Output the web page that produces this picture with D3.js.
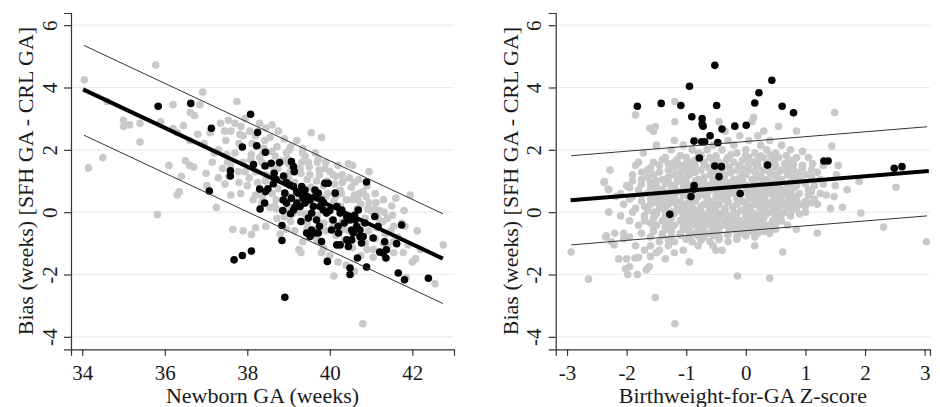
<!DOCTYPE html>
<html>
<head>
<meta charset="utf-8">
<script src="https://cdn.jsdelivr.net/npm/d3@7"></script>
<style>
  body { margin: 0; background: #fff; }
  svg text { font-family: 'Liberation Serif', 'Tinos', 'Times New Roman', 'DejaVu Serif', serif; fill: #1a1a1a; }
</style>
</head>
<body>
<svg id="chart" width="940" height="407"></svg>
<script>
// tick values
const yTicks = [-4, -2, 0, 2, 4, 6];
const gaTicks = [34, 36, 38, 40, 42];
const zTicks = [-3, -2, -1, 0, 1, 2, 3];

const yTitle = 'Bias (weeks) [SFH GA - CRL GA]';
const gaTitle = 'Newborn GA (weeks)';
const zTitle = 'Birthweight-for-GA Z-score';
const serif = "'Liberation Serif', 'Tinos', 'Times New Roman', 'DejaVu Serif', serif";

// left panel: [newborn GA, bias]
const gaGray = [
  [34.05,4.25],[34.15,1.42],[34.5,1.75],[34.6,3.55],[35.0,2.95],[35.0,2.75],[35.15,2.8],[35.4,2.85],[35.4,2.25],
  [35.78,4.72],[35.82,-0.08],[36.1,1.5],[36.2,2.68],[36.2,3.45],[36.3,0.55],[36.35,0.65],[36.4,1.15],[36.45,2.78],
  [36.5,1.65],[36.6,1.5],[36.7,1.45],[36.6,2.3],[36.72,3.1],[36.62,3.2],[36.85,3.45],[36.92,3.85],[37.0,1.25],
  [37.02,0.85],[36.95,2.2],[37.1,2.55],[37.25,0.15],[37.3,2.0],[37.2,1.9],[37.35,2.85],[37.45,2.6],[37.5,1.85],
  [37.55,1.15],[37.6,0.55],[37.4,1.4],[37.65,-0.55],[37.9,-0.6],[38.1,-0.72],[38.2,-0.5],[38.45,-0.45],[37.75,3.55],
  [37.7,2.85],[37.6,2.6],[37.85,2.75],[37.95,3.0],[38.2,2.45],[38.3,2.85],[38.45,2.7],[38.55,2.4],[37.7,1.9],
  [37.8,2.2],[37.9,1.6],[37.95,1.3],[38.05,1.1],[38.0,0.85],[37.8,0.95],[38.2,0.55],[38.35,0.3],[38.55,0.15],
  [38.7,0.1],[38.6,0.6],[38.7,0.4],[38.9,-0.15],[38.95,-0.55],[39.05,-0.3],[39.3,-1.3],[39.25,-1.2],[39.45,-0.55],
  [39.55,-0.75],[39.7,-0.9],[39.85,-1.15],[39.9,-0.6],[40.1,-2.05],[40.2,-1.6],[40.8,-3.58],[39.55,2.55],[39.8,2.4],
  [39.65,1.9],[39.9,1.6],[39.4,1.8],[39.2,2.3],[39.05,2.1],[38.9,2.35],[38.75,2.6],[38.95,1.9],[38.85,1.65],
  [38.6,1.95],[38.4,2.05],[38.3,1.75],[38.1,1.85],[38.2,1.3],[38.45,1.2],[38.65,1.35],[38.8,1.05],[39.0,1.1],
  [39.15,0.95],[39.3,1.25],[39.5,1.45],[39.45,1.05],[39.6,0.7],[39.75,1.2],[39.85,0.85],[40.0,1.3],[40.15,1.15],
  [40.3,1.2],[40.45,1.55],[40.55,1.5],[40.7,1.05],[40.95,1.3],[40.95,0.3],[40.8,0.65],[40.6,0.55],[40.4,0.4],
  [40.25,0.7],[40.1,0.35],[39.95,0.15],[39.7,-0.1],[39.4,-0.05],[39.25,0.4],[39.1,-0.05],[40.3,-0.3],[40.5,-0.1],
  [40.7,-0.35],[40.85,-0.2],[41.0,0.05],[41.2,0.05],[41.2,-0.35],[41.4,-0.2],[41.55,-0.45],[41.6,0.45],[41.8,0.05],
  [41.95,0.55],[41.65,-0.8],[41.9,-1.05],[42.0,-1.6],[41.85,-2.1],[42.55,-2.3],[42.75,-1.05],[41.3,-1.0],[41.1,-0.85],
  [40.9,-1.2],[40.75,-1.4],[40.55,-1.15],[40.35,-0.9],[40.15,-0.75],[40.0,-1.4],[39.8,-1.3],[40.4,-1.7],[40.6,-1.9],
  [41.05,-1.45],[41.4,-1.1],[41.55,-1.3],[42.2,-1.2],[38.5,1.5],[38.75,0.75],[39.0,0.5],[39.6,0.3],[39.9,0.5],
  [40.6,0.95],[40.3,0.95],[41.3,0.4],[41.1,0.6],[38.25,0.95],[37.6,1.5],[37.3,1.1],[37.9,2.45],[38.6,2.8],
  [39.35,2.05],[39.7,1.6],[40.2,1.5],[40.75,0.25],[41.5,0.2],[41.75,-0.35],[39.15,-0.6],[39.35,-0.95],[38.8,-0.7],
  [40.05,-0.25],[40.9,0.85],[41.15,-0.15],[39.0,1.55],[38.35,1.6],[37.15,1.6],[36.8,2.5],[36.3,2.55],[35.9,2.9],
  [37.48,2.3],[37.52,1.6],[37.46,0.9],[37.54,2.95],[37.82,2.5],[37.78,1.3],[37.84,0.6],[38.12,2.2],[38.08,1.7],
  [38.14,0.4],[38.06,2.6],[38.42,2.3],[38.38,1.9],[38.44,1.0],[38.36,0.5],[38.72,2.1],[38.68,1.8],[38.74,1.4],
  [38.66,0.2],[38.72,-0.2],[39.02,2.0],[38.98,1.7],[39.04,1.3],[38.96,0.0],[39.02,0.2],[39.32,1.6],[39.28,1.4],
  [39.34,1.9],[39.26,0.0],[39.32,-0.3],[39.52,1.2],[39.48,1.6],[39.54,0.8],[39.46,-0.4],[39.72,1.7],[39.68,1.0],
  [39.74,1.35],[39.66,-0.2],[39.72,-0.5],[39.92,1.0],[39.88,1.4],[39.94,0.6],[39.86,-0.35],[40.12,0.9],[40.08,1.2],
  [40.14,0.5],[40.06,-0.5],[40.32,1.0],[40.28,0.6],[40.34,-0.55],[40.26,0.2],[40.52,0.8],[40.48,1.1],[40.54,0.4],
  [40.46,-0.6],[40.72,0.6],[40.68,0.4],[40.74,-0.9],[40.66,0.1],[40.92,0.1],[40.88,0.5],[40.94,-0.6],[40.86,-1.0],
  [41.12,0.3],[41.08,0.1],[41.14,-0.5],[41.06,-1.2],[41.32,0.0],[41.28,-0.3],[41.34,-0.7],[41.52,-0.1],[41.48,-0.6],
  [41.54,-0.95],[41.82,-0.45],[41.78,-1.3],[42.12,-0.6],[42.08,-1.5]
];
const gaBlack = [
  [35.84,3.40],[36.63,3.49],[37.13,2.69],[37.08,0.68],[38.08,3.14],[38.25,2.56],[38.23,2.13],[37.88,2.09],[38.44,1.92],
  [38.15,1.53],[37.59,1.33],[37.59,1.16],[37.68,-1.53],[37.88,-1.39],[38.1,-1.25],[38.91,-2.73],[38.84,-0.91],[38.84,-0.43],
  [38.86,0.05],[38.3,0.74],[38.44,0.66],[38.31,0.1],[38.42,0.29],[38.43,1.48],[38.58,1.57],[38.78,1.59],[38.65,1.25],
  [38.88,1.16],[38.63,0.91],[39.07,1.62],[39.12,1.46],[39.14,1.3],[38.91,0.61],[39.03,0.87],[39.12,0.82],[38.87,0.39],
  [38.95,0.29],[39.07,0.45],[39.2,0.29],[39.28,0.18],[39.12,0.07],[39.24,0.61],[39.32,0.82],[39.4,0.71],[39.44,0.5],
  [39.52,0.39],[39.6,0.18],[39.56,-0.03],[39.48,-0.19],[39.4,0.29],[39.64,0.71],[39.72,0.61],[39.8,0.39],[39.76,0.18],
  [39.84,0.07],[39.92,-0.03],[39.68,-0.25],[39.56,-0.57],[39.44,-0.67],[39.52,-0.78],[39.64,-0.67],[39.72,-0.67],[39.8,-0.94],
  [39.88,0.93],[39.96,0.93],[40.13,0.61],[40.17,0.18],[40.08,-0.25],[40.04,-0.57],[40.17,-1.05],[40.21,-0.67],[40.25,-0.03],
  [40.29,0.07],[40.41,-0.14],[40.49,-0.25],[40.53,-0.57],[40.41,-0.89],[40.25,-1.05],[40.45,-1.1],[40.53,-0.89],[40.57,-0.67],
  [40.65,-0.46],[40.73,-0.57],[40.61,-0.25],[40.69,0.07],[40.73,-0.78],[40.77,-0.99],[40.67,-1.47],[40.49,-1.79],[40.49,-2.0],
  [40.89,-1.76],[40.81,-0.78],[41.05,-0.83],[41.09,-0.14],[41.17,-0.46],[41.21,-1.28],[41.29,-1.31],[41.33,-0.95],[41.37,-1.21],
  [41.36,-1.47],[39.94,-1.58],[41.66,-1.95],[41.62,-1.01],[41.74,-0.41],[41.81,-2.17],[42.39,-2.12],[40.89,0.97],[38.7,1.05],
  [38.95,0.95],[39.2,0.65],[39.35,0.45],[39.15,0.15],[39.05,-0.05],[39.65,0.5],[39.85,0.3],[40.0,0.05],[40.35,-0.35],
  [40.6,-0.1],[40.85,-0.35],[39.3,-0.3],[39.75,-0.45],[38.5,0.75],[40.2,-0.45]
];

// right panel: [birthweight-for-GA z-score, bias]
const zGray = [
  [-0.45,2.9],[0.1,2.9],[-1.52,2.75],[0.55,2.75],[1.49,3.2],[-1.55,2.6],[-0.35,2.6],[0.3,2.6],[0.85,2.6],
  [-0.6,2.45],[-0.1,2.45],[0.2,2.45],[-1.2,2.3],[-0.85,2.3],[-0.3,2.3],[0.05,2.3],[0.4,2.3],
  [-1.5,2.15],[-1.05,2.15],[-0.55,2.15],[-0.2,2.15],[0.25,2.15],[0.6,2.15],[1.44,2.12],
  [-1.25,2.0],[-0.9,2.0],[-0.65,2.0],[-0.4,2.0],[0.0,2.0],[0.35,2.0],[0.75,2.0],[0.95,1.95],
  [-1.72,1.9],[-0.8,1.9],[-0.15,1.9],[0.15,1.9],[0.5,1.9],
  [-1.35,1.75],[-1.0,1.75],[-0.6,1.75],[-0.3,1.75],[0.05,1.75],[0.3,1.75],[0.55,1.75],[0.85,1.75],[1.05,1.75],
  [-1.8,1.6],[-1.55,1.6],[-1.2,1.6],[-0.95,1.6],[-0.7,1.6],[-0.45,1.6],[-0.2,1.6],[0.1,1.6],[0.4,1.6],[0.7,1.6],
  [-1.85,1.5],[-1.45,1.5],[-1.1,1.5],[-0.85,1.5],[-0.55,1.5],[-0.1,1.5],[0.2,1.5],[0.5,1.5],[0.95,1.5],[1.3,1.5],[1.55,1.5],
  [-2.28,1.35],[-1.65,1.35],[-1.3,1.35],[-1.0,1.35],[-0.75,1.35],[-0.4,1.35],[-0.15,1.35],[0.05,1.35],[0.3,1.35],[0.6,1.35],[0.8,1.35],[1.1,1.35],
  [-1.9,1.2],[-1.55,1.2],[-1.2,1.2],[-0.95,1.2],[-0.6,1.2],[-0.35,1.2],[0.0,1.2],[0.25,1.2],[0.45,1.2],[0.7,1.2],[1.0,1.2],[1.52,1.2],
  [-1.75,1.05],[-1.4,1.05],[-1.1,1.05],[-0.8,1.05],[-0.5,1.05],[-0.2,1.05],[0.1,1.05],[0.35,1.05],[0.6,1.05],[0.9,1.05],[1.25,1.05],
  [-2.38,0.95],[-1.6,0.95],[-1.3,0.95],[-1.0,0.95],[-0.7,0.95],[-0.45,0.95],[-0.25,0.95],[0.15,0.95],[0.4,0.95],[0.75,0.95],[1.0,0.95],[1.9,0.98],
  [-2.0,0.85],[-1.5,0.85],[-1.2,0.85],[-0.9,0.85],[-0.6,0.85],[-0.35,0.85],[0.0,0.85],[0.3,0.85],[0.55,0.85],[0.85,0.85],[1.15,0.85],[1.5,0.85],[2.52,0.8],
  [-2.3,0.72],[-1.8,0.72],[-1.4,0.72],[-1.05,0.72],[-0.75,0.72],[-0.55,0.72],[-0.15,0.72],[0.2,0.72],[0.45,0.72],[0.65,0.72],[1.05,0.72],[1.7,0.72],
  [-2.1,0.6],[-1.65,0.6],[-1.3,0.6],[-1.0,0.6],[-0.65,0.6],[-0.4,0.6],[-0.2,0.6],[0.1,0.6],[0.35,0.6],[0.6,0.6],[0.9,0.6],[1.25,0.6],
  [-2.18,0.5],[-1.9,0.5],[-1.5,0.5],[-1.2,0.5],[-0.8,0.5],[-0.5,0.5],[0.05,0.5],[0.25,0.5],[0.5,0.5],[0.8,0.5],[1.48,0.5],
  [-1.75,0.35],[-1.4,0.35],[-1.1,0.35],[-0.85,0.35],[-0.55,0.35],[-0.3,0.35],[-0.05,0.35],[0.2,0.35],[0.45,0.35],[0.7,0.35],[1.0,0.35],
  [-2.05,0.25],[-1.6,0.25],[-1.3,0.25],[-1.0,0.25],[-0.7,0.25],[-0.45,0.25],[-0.15,0.25],[0.15,0.25],[0.4,0.25],[0.65,0.25],[0.92,0.25],[1.2,0.25],
  [-1.85,0.12],[-1.45,0.12],[-1.15,0.12],[-0.9,0.12],[-0.6,0.12],[-0.35,0.12],[0.0,0.12],[0.3,0.12],[0.55,0.12],[0.85,0.12],[1.42,0.12],[1.62,0.16],
  [-2.3,0.0],[-1.9,0.0],[-1.55,0.0],[-1.25,0.0],[-1.0,0.0],[-0.75,0.0],[-0.5,0.0],[-0.2,0.0],[0.1,0.0],[0.4,0.0],[0.65,0.0],[1.0,0.0],[1.93,-0.03],
  [-2.1,-0.12],[-1.7,-0.12],[-1.35,-0.12],[-1.05,-0.12],[-0.8,-0.12],[-0.55,-0.12],[-0.3,-0.12],[0.0,-0.12],[0.25,-0.12],[0.5,-0.12],[0.75,-0.12],
  [-1.95,-0.28],[-1.7,-0.28],[-1.4,-0.28],[-1.1,-0.28],[-0.85,-0.28],[-0.6,-0.28],[-0.35,-0.28],[-0.1,-0.28],[0.15,-0.28],[0.45,-0.28],[0.6,-0.28],
  [-1.8,-0.42],[-1.5,-0.42],[-1.2,-0.42],[-0.9,-0.42],[-0.65,-0.42],[-0.4,-0.42],[-0.15,-0.42],[0.1,-0.42],[0.35,-0.42],[0.7,-0.42],[2.31,-0.48],
  [-1.55,-0.55],[-1.3,-0.55],[-1.0,-0.55],[-0.75,-0.55],[-0.5,-0.55],[-0.25,-0.55],[0.05,-0.55],[0.3,-0.55],[0.5,-0.55],[0.85,-0.55],
  [-2.2,-0.68],[-2.05,-0.68],[-1.75,-0.68],[-1.4,-0.68],[-1.1,-0.68],[-0.85,-0.68],[-0.6,-0.68],[-0.3,-0.68],[-0.05,-0.68],[0.2,-0.68],[0.4,-0.68],[1.2,-0.67],
  [-2.35,-0.8],[-1.95,-0.8],[-1.6,-0.8],[-1.25,-0.8],[-0.95,-0.8],[-0.7,-0.8],[-0.45,-0.8],[-0.15,-0.8],[0.15,-0.8],
  [-2.25,-0.95],[-1.45,-0.95],[-1.2,-0.95],[-0.9,-0.95],[-0.6,-0.95],[-0.3,-0.95],[3.03,-0.95],
  [-1.85,-1.08],[-1.6,-1.08],[-1.3,-1.08],[-0.8,-1.08],[-0.55,-1.08],[0.15,-1.08],
  [-1.7,-1.22],[-1.45,-1.22],[-1.05,-1.22],[-0.5,-1.22],[-0.4,-1.22],
  [-2.93,-1.28],[-1.5,-1.3],[-1.2,-1.3],[0.62,-1.28],[-2.0,-1.5],[-1.8,-1.45],[-1.35,-1.5],[-0.95,-1.6],
  [-1.95,-1.75],[-1.62,-1.75],[-1.98,-2.0],[-1.82,-2.0],[-0.14,-2.05],[-2.64,-2.15],[0.40,-2.12],[-1.52,-2.74],[-1.19,-3.58],
  [-1.19,3.55],[-1.85,3.12],[0.13,3.04],[-1.19,2.9],[-1.61,2.69],[-2.37,0.98],[-2.31,0.74],[-2.34,-0.76],[-2.21,-1.05],
  [-2.05,-0.86],[-2.13,-1.5],[-2.02,-1.82],[-1.67,-1.85],[-1.86,-1.47],[-1.6,-1.42],
  // dense core
  [-1.1,1.82],[-0.75,1.83],[-0.5,1.81],[-0.25,1.84],[0.0,1.82],[0.25,1.8],[0.42,1.83],[0.68,1.82],
  [-1.4,1.68],[-1.15,1.69],[-0.85,1.67],[-0.55,1.68],[-0.32,1.7],[-0.05,1.67],[0.2,1.68],[0.48,1.69],[0.78,1.66],
  [-1.3,1.55],[-1.0,1.56],[-0.7,1.54],[-0.35,1.55],[0.05,1.53],[0.35,1.56],[0.65,1.55],[0.8,1.52],[1.12,1.55],
  [-1.6,1.42],[-1.2,1.43],[-0.9,1.41],[-0.62,1.42],[-0.28,1.44],[0.0,1.41],[0.18,1.42],[0.45,1.43],[0.7,1.4],[0.95,1.42],
  [-1.75,1.28],[-1.45,1.29],[-1.1,1.27],[-0.85,1.28],[-0.52,1.3],[-0.25,1.27],[-0.05,1.28],[0.15,1.29],[0.4,1.27],[0.55,1.28],[0.88,1.26],[1.2,1.28],
  [-1.65,1.12],[-1.3,1.13],[-1.0,1.11],[-0.7,1.12],[-0.42,1.14],[-0.1,1.11],[0.18,1.12],[0.5,1.13],[0.8,1.11],[1.1,1.12],
  [-1.9,1.0],[-1.5,1.01],[-1.15,0.99],[-0.85,1.0],[-0.55,1.02],[-0.35,0.99],[-0.05,1.0],[0.28,1.01],[0.55,0.99],[0.88,1.0],
  [-1.75,0.9],[-1.35,0.91],[-1.05,0.89],[-0.75,0.9],[-0.48,0.92],[-0.15,0.89],[0.15,0.9],[0.45,0.91],[0.7,0.89],[1.0,0.9],[1.3,0.9],
  [-1.95,0.78],[-1.6,0.79],[-1.25,0.77],[-0.95,0.78],[-0.65,0.8],[-0.3,0.77],[0.08,0.78],[0.35,0.79],[0.55,0.77],[0.8,0.78],
  [-1.5,0.66],[-1.15,0.67],[-0.85,0.65],[-0.48,0.66],[-0.28,0.68],[0.0,0.65],[0.25,0.66],[0.5,0.67],[0.75,0.65],[1.1,0.66],
  [-1.75,0.55],[-1.4,0.56],[-1.05,0.54],[-0.7,0.55],[-0.3,0.57],[-0.1,0.54],[0.2,0.55],[0.45,0.56],[0.7,0.54],[1.05,0.55],[1.35,0.55],
  [-1.95,0.42],[-1.6,0.43],[-1.3,0.41],[-0.95,0.42],[-0.65,0.44],[-0.4,0.41],[-0.15,0.42],[0.1,0.43],[0.32,0.41],[0.58,0.42],[0.85,0.42],[1.15,0.42],
  [-1.5,0.3],[-1.2,0.31],[-0.9,0.29],[-0.6,0.3],[-0.3,0.32],[0.0,0.29],[0.3,0.3],[0.55,0.31],[0.8,0.29],[1.1,0.3],
  [-1.7,0.18],[-1.35,0.19],[-1.05,0.17],[-0.75,0.18],[-0.5,0.2],[-0.22,0.17],[0.05,0.18],[0.22,0.19],[0.48,0.17],[0.72,0.18],[1.0,0.18],
  [-1.65,0.06],[-1.35,0.07],[-1.1,0.05],[-0.85,0.06],[-0.6,0.08],[-0.35,0.05],[-0.08,0.06],[0.25,0.07],[0.5,0.05],[0.78,0.06],
  [-1.5,-0.06],[-1.2,-0.05],[-0.9,-0.07],[-0.65,-0.06],[-0.4,-0.04],[-0.15,-0.07],[0.15,-0.06],[0.35,-0.05],[0.6,-0.07],[0.9,-0.06],
  [-1.55,-0.2],[-1.25,-0.19],[-0.95,-0.21],[-0.7,-0.2],[-0.45,-0.18],[-0.2,-0.21],[0.05,-0.2],[0.3,-0.19],[0.55,-0.21],
  [-1.6,-0.35],[-1.3,-0.34],[-1.0,-0.36],[-0.75,-0.35],[-0.5,-0.33],[-0.25,-0.36],[0.0,-0.35],[0.25,-0.34],[0.5,-0.36],
  [-1.35,-0.48],[-1.05,-0.47],[-0.8,-0.49],[-0.55,-0.48],[-0.3,-0.46],[-0.05,-0.49],[0.2,-0.48],[0.45,-0.47],
  [-1.55,-0.62],[-1.25,-0.61],[-0.95,-0.63],[-0.7,-0.62],[-0.45,-0.6],[-0.15,-0.63],[0.1,-0.62],[0.3,-0.61],
  [-1.4,-0.75],[-1.1,-0.74],[-0.8,-0.76],[-0.55,-0.75],[-0.3,-0.73],[0.0,-0.76],
  [-1.3,-0.88],[-1.0,-0.87],[-0.75,-0.89],[-0.45,-0.88],[-0.15,-0.87]
];
const zBlack = [
  [-1.82,3.40],[-1.42,3.49],[-1.09,3.42],[-0.945,4.04],[-0.906,3.06],[-0.733,3.0],[-0.733,2.83],[-0.716,2.76],
  [-0.87,2.28],[-0.74,2.26],[-0.69,2.26],[-0.60,2.45],[-0.52,4.71],[-0.49,3.42],[-0.40,2.67],[-0.47,2.23],
  [-0.78,1.74],[-0.52,1.48],[-0.41,1.46],[-0.45,1.14],[-0.867,0.85],[-0.87,0.74],[-0.92,0.50],[-1.275,-0.07],
  [-0.185,2.76],[0.006,2.79],[-0.095,0.60],[0.15,3.50],[0.22,3.83],[0.436,4.23],[0.364,1.51],[0.61,3.40],
  [0.80,3.19],[1.31,1.64],[1.38,1.64],[2.49,1.41],[2.62,1.46]
];

// fitted line and band ends
const gaFit = [[34.02,3.94],[42.74,-1.49]];
const gaUpper = [[34.04,5.35],[42.74,-0.05]];
const gaLower = [[34.04,2.47],[42.74,-2.93]];
const zFit = [[-2.94,0.38],[3.07,1.32]];
const zUpper = [[-2.93,1.81],[3.04,2.74]];
const zLower = [[-2.93,-1.05],[3.04,-0.12]];

const svg = d3.select('#chart');
svg.append('rect').attr('width', 940).attr('height', 407).attr('fill', '#fff');

const drawPanel = (p) => {
  const x = d3.scaleLinear().domain(p.xDomain).range([p.left, p.right]);
  const y = d3.scaleLinear().domain([-4.4, 6.39]).range([349.3, 13]);
  const g = svg.append('g');

  // horizontal grid
  g.append('g')
    .selectAll('line')
    .data(yTicks)
    .enter()
    .append('line')
    .attr('x1', p.left)
    .attr('x2', p.right)
    .attr('y1', d => y(d))
    .attr('y2', d => y(d))
    .attr('stroke', '#e3eef0')
    .attr('stroke-width', 1.2);

  g.append('g')
    .selectAll('circle')
    .data(p.gray)
    .enter()
    .append('circle')
    .attr('cx', d => x(d[0]))
    .attr('cy', d => y(d[1]))
    .attr('r', 3.8)
    .attr('fill', '#c9c9c9');

  g.append('g')
    .selectAll('circle')
    .data(p.black)
    .enter()
    .append('circle')
    .attr('cx', d => x(d[0]))
    .attr('cy', d => y(d[1]))
    .attr('r', 3.8)
    .attr('fill', '#050505');

  const line = d3.line().x(d => x(d[0])).y(d => y(d[1]));
  [p.upper, p.lower].forEach(seg => {
    g.append('path').attr('d', line(seg)).attr('fill', 'none')
      .attr('stroke', '#333').attr('stroke-width', 1);
  });
  g.append('path').attr('d', line(p.fit)).attr('fill', 'none')
    .attr('stroke', '#000').attr('stroke-width', 4);

  // axes
  const yAxis = g.append('g')
    .attr('transform', `translate(${p.left},0)`)
    .call(d3.axisLeft(y).tickValues(yTicks).tickSize(7).tickFormat(d => String(d)));
  yAxis.selectAll('text')
    .attr('x', 0).attr('y', 0).attr('dy', 0)
    .attr('text-anchor', 'middle')
    .attr('dominant-baseline', 'central')
    .attr('transform', 'translate(-21.5,0) rotate(-90)');

  const xAxis = g.append('g')
    .attr('transform', 'translate(0,349.3)')
    .call(d3.axisBottom(x).tickValues(p.xTicks).tickSize(6.5).tickFormat(d => String(d)));
  xAxis.selectAll('text').attr('y', 16).attr('dy', '0.71em');

  [yAxis, xAxis].forEach(a => {
    a.attr('font-family', serif).attr('font-size', 21);
    a.select('.domain').attr('stroke', '#333').attr('stroke-width', 1.2);
    a.selectAll('.tick line').attr('stroke', '#333').attr('stroke-width', 1.2);
    a.selectAll('text').style('font-family', serif).style('font-size', '21px').attr('fill', '#1a1a1a');
  });

  g.append('text')
    .attr('x', (p.left + p.right) / 2)
    .attr('y', 403)
    .attr('text-anchor', 'middle')
    .style('font-family', serif)
    .style('font-size', '22px')
    .text(p.xTitle);

  g.append('text')
    .attr('transform', `translate(${p.left - 38},181) rotate(-90)`)
    .attr('text-anchor', 'middle')
    .style('font-family', serif)
    .style('font-size', '22px')
    .text(yTitle);
};

drawPanel({
  left: 71, right: 454, xDomain: [33.727, 43.01], xTicks: gaTicks, xTitle: gaTitle,
  gray: gaGray, black: gaBlack, fit: gaFit, upper: gaUpper, lower: gaLower
});
drawPanel({
  left: 555.7, right: 930, xDomain: [-3.19, 3.09], xTicks: zTicks, xTitle: zTitle,
  gray: zGray, black: zBlack, fit: zFit, upper: zUpper, lower: zLower
});
</script>
</body>
</html>
